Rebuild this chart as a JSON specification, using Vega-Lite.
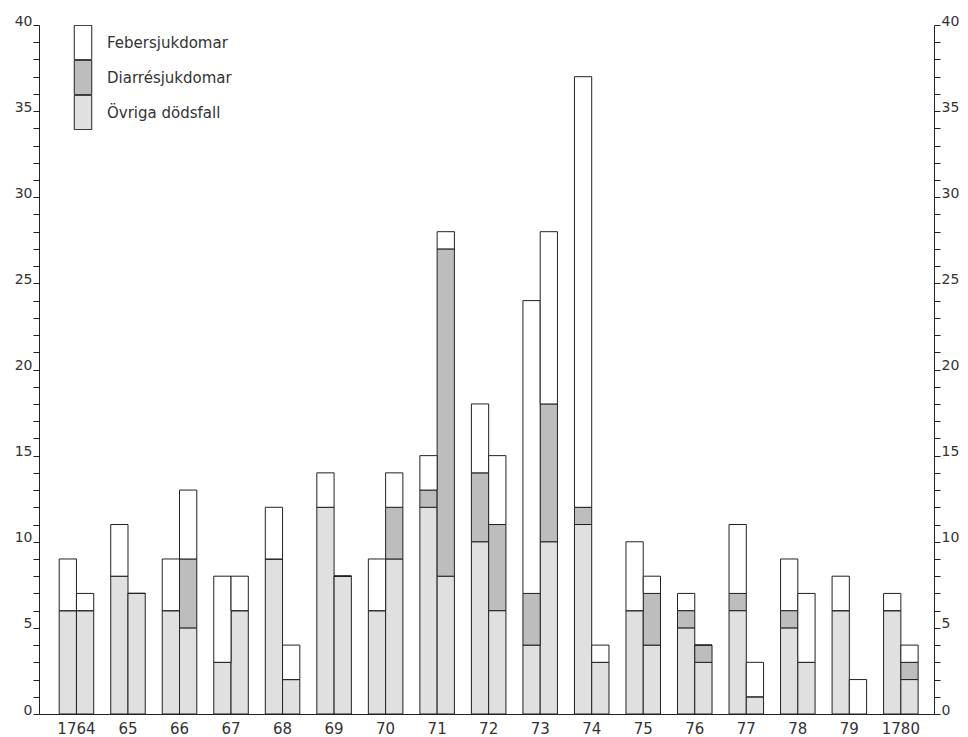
{
  "$schema": "https://vega.github.io/schema/vega-lite/v6.json",
  "width": 895,
  "height": 689,
  "autosize": {"type": "none"},
  "padding": {"left": 39, "top": 25, "right": 34, "bottom": 23},
  "background": "white",
  "data": {
    "values": [
      {"year": 1764, "half": "a", "ovr": 6, "dia": 6, "tot": 9},
      {"year": 1764, "half": "b", "ovr": 6, "dia": 6, "tot": 7},
      {"year": 1765, "half": "a", "ovr": 8, "dia": 8, "tot": 11},
      {"year": 1765, "half": "b", "ovr": 7, "dia": 7, "tot": 7},
      {"year": 1766, "half": "a", "ovr": 6, "dia": 6, "tot": 9},
      {"year": 1766, "half": "b", "ovr": 5, "dia": 9, "tot": 13},
      {"year": 1767, "half": "a", "ovr": 3, "dia": 3, "tot": 8},
      {"year": 1767, "half": "b", "ovr": 6, "dia": 6, "tot": 8},
      {"year": 1768, "half": "a", "ovr": 9, "dia": 9, "tot": 12},
      {"year": 1768, "half": "b", "ovr": 2, "dia": 2, "tot": 4},
      {"year": 1769, "half": "a", "ovr": 12, "dia": 12, "tot": 14},
      {"year": 1769, "half": "b", "ovr": 8, "dia": 8, "tot": 8},
      {"year": 1770, "half": "a", "ovr": 6, "dia": 6, "tot": 9},
      {"year": 1770, "half": "b", "ovr": 9, "dia": 12, "tot": 14},
      {"year": 1771, "half": "a", "ovr": 12, "dia": 13, "tot": 15},
      {"year": 1771, "half": "b", "ovr": 8, "dia": 27, "tot": 28},
      {"year": 1772, "half": "a", "ovr": 10, "dia": 14, "tot": 18},
      {"year": 1772, "half": "b", "ovr": 6, "dia": 11, "tot": 15},
      {"year": 1773, "half": "a", "ovr": 4, "dia": 7, "tot": 24},
      {"year": 1773, "half": "b", "ovr": 10, "dia": 18, "tot": 28},
      {"year": 1774, "half": "a", "ovr": 11, "dia": 12, "tot": 37},
      {"year": 1774, "half": "b", "ovr": 3, "dia": 3, "tot": 4},
      {"year": 1775, "half": "a", "ovr": 6, "dia": 6, "tot": 10},
      {"year": 1775, "half": "b", "ovr": 4, "dia": 7, "tot": 8},
      {"year": 1776, "half": "a", "ovr": 5, "dia": 6, "tot": 7},
      {"year": 1776, "half": "b", "ovr": 3, "dia": 4, "tot": 4},
      {"year": 1777, "half": "a", "ovr": 6, "dia": 7, "tot": 11},
      {"year": 1777, "half": "b", "ovr": 1, "dia": 1, "tot": 3},
      {"year": 1778, "half": "a", "ovr": 5, "dia": 6, "tot": 9},
      {"year": 1778, "half": "b", "ovr": 3, "dia": 3, "tot": 7},
      {"year": 1779, "half": "a", "ovr": 6, "dia": 6, "tot": 8},
      {"year": 1779, "half": "b", "ovr": 0, "dia": 0, "tot": 2},
      {"year": 1780, "half": "a", "ovr": 6, "dia": 6, "tot": 7},
      {"year": 1780, "half": "b", "ovr": 2, "dia": 3, "tot": 4}
    ]
  },
  "encoding": {
    "x": {
      "field": "year",
      "type": "ordinal",
      "scale": {"paddingInner": 0.33, "paddingOuter": 0.35, "align": 0.56},
      "axis": {
        "title": null,
        "ticks": false,
        "labelAngle": 0,
        "labelPadding": 7,
        "labelFontSize": 15,
        "labelExpr": "datum.value == 1764 || datum.value == 1780 ? datum.label : substring(datum.label, 2)"
      }
    },
    "xOffset": {"field": "half", "type": "nominal", "scale": {"paddingInner": 0, "paddingOuter": 0}}
  },
  "layer": [
    {
      "mark": {"type": "bar", "stroke": "#222", "strokeWidth": 1, "opacity": 1},
      "encoding": {
        "y": {
          "field": "ovr",
          "type": "quantitative",
          "scale": {"domain": [0, 40], "nice": false, "zero": true},
          "axis": {
            "orient": "left",
            "title": null,
            "values": [0,1,2,3,4,5,6,7,8,9,10,11,12,13,14,15,16,17,18,19,20,21,22,23,24,25,26,27,28,29,30,31,32,33,34,35,36,37,38,39,40],
            "labelExpr": "datum.value % 5 == 0 ? datum.label : ''",
            "tickSize": 6,
            "labelPadding": 1,
            "labelBaseline": "alphabetic",
            "labelFontSize": 14,
            "labelOverlap": false,
            "labelFlush": false
          }
        },
        "fill": {
          "datum": "Övriga dödsfall",
          "type": "nominal",
          "scale": {
            "domain": ["Febersjukdomar", "Diarrésjukdomar", "Övriga dödsfall"],
            "range": ["#ffffff", "#bdbdbd", "#e0e0e0"]
          },
          "legend": {
            "title": null,
            "orient": "none",
            "legendX": 26,
            "legendY": 0,
            "padding": 0,
            "symbolType": "M-0.5,-0.98H0.5V0.98H-0.5Z",
            "symbolSize": 1225,
            "symbolStrokeColor": "#222",
            "symbolStrokeWidth": 1,
            "rowPadding": 0,
            "clipHeight": 35,
            "labelOffset": 6,
            "labelFontSize": 15,
            "labelColor": "#333",
            "labelFont": "DejaVu Sans",
            "encode": {"symbols": {"update": {"stroke": {"value": "#222"}, "strokeWidth": {"value": 1}, "opacity": {"value": 1}}}}
          }
        }
      }
    },
    {
      "mark": {"type": "bar", "stroke": "#222", "strokeWidth": 1, "opacity": 1},
      "encoding": {
        "y": {
          "field": "ovr",
          "type": "quantitative",
          "axis": {
            "orient": "right",
            "title": null,
            "values": [0,1,2,3,4,5,6,7,8,9,10,11,12,13,14,15,16,17,18,19,20,21,22,23,24,25,26,27,28,29,30,31,32,33,34,35,36,37,38,39,40],
            "labelExpr": "datum.value % 5 == 0 ? datum.label : ''",
            "tickSize": 6,
            "labelPadding": 1,
            "labelBaseline": "alphabetic",
            "labelFontSize": 14,
            "labelOverlap": false,
            "labelFlush": false
          }
        },
        "y2": {"field": "dia"},
        "fill": {"datum": "Diarrésjukdomar", "type": "nominal"}
      }
    },
    {
      "mark": {"type": "bar", "stroke": "#222", "strokeWidth": 1, "opacity": 1},
      "encoding": {
        "y": {"field": "dia", "type": "quantitative", "axis": null},
        "y2": {"field": "tot"},
        "fill": {"datum": "Febersjukdomar", "type": "nominal"}
      }
    }
  ],
  "resolve": {"axis": {"y": "independent"}},
  "config": {
    "view": {"stroke": null},
    "axis": {
      "grid": false,
      "domainColor": "#222",
      "tickColor": "#222",
      "labelColor": "#333",
      "labelFont": "DejaVu Sans",
      "domainWidth": 1,
      "tickWidth": 1
    }
  }
}
